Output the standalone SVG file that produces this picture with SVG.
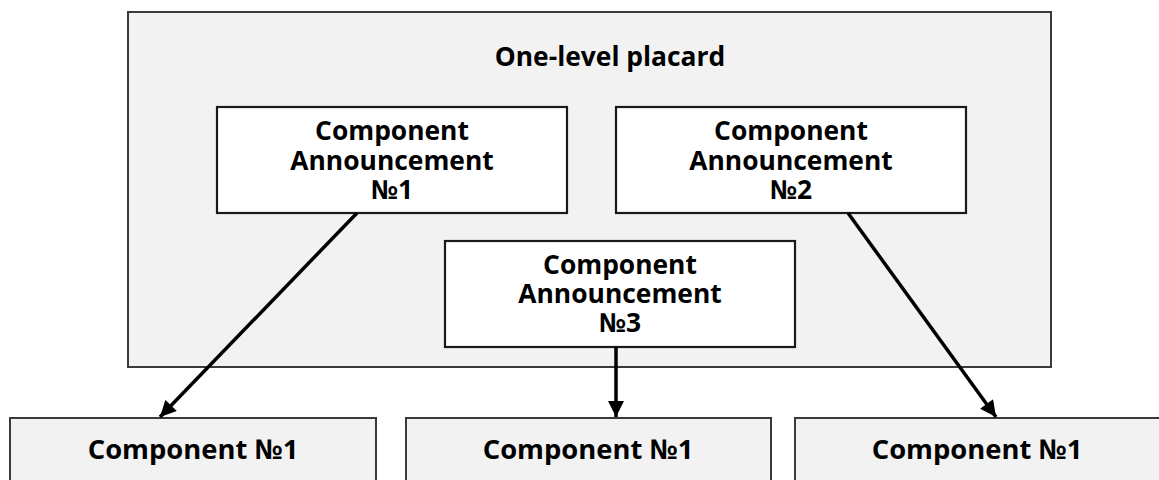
<svg xmlns="http://www.w3.org/2000/svg" width="1159" height="480" viewBox="0 0 1159 480">
<defs>
<style>
.outer{fill:#f2f2f2;stroke:#3a3a3a;stroke-width:2}
.inner{fill:#ffffff;stroke:#1a1a1a;stroke-width:2.2}
.comp{fill:#f2f2f2;stroke:#3a3a3a;stroke-width:2}
.t{font-family:"Open Sans","Noto Sans","DejaVu Sans",sans-serif;font-weight:bold;font-size:26.4px;fill:#000;text-anchor:middle}
.b{font-size:27.4px}
.conn{stroke:#000;stroke-width:3.5;fill:none}
</style>
<marker id="ah" viewBox="0 0 10 10" refX="10" refY="5" markerWidth="17" markerHeight="16" markerUnits="userSpaceOnUse" orient="auto">
<path d="M0,0 L10,5 L0,10 Z" fill="#000"/>
</marker>
</defs>
<rect width="1159" height="480" fill="#ffffff"/>
<g id="placard">
<rect class="outer" x="128" y="12" width="923" height="355"/>
<text class="t" x="610" y="66">One-level placard</text>
</g>
<g id="announcement1">
<rect class="inner" x="217" y="107" width="350" height="106"/>
<text class="t" x="392" y="140">Component<tspan x="392" y="170">Announcement</tspan><tspan x="392" y="199">№1</tspan></text>
</g>
<g id="announcement2">
<rect class="inner" x="616" y="107" width="350" height="106"/>
<text class="t" x="791" y="140">Component<tspan x="791" y="170">Announcement</tspan><tspan x="791" y="199">№2</tspan></text>
</g>
<g id="announcement3">
<rect class="inner" x="445" y="241" width="350" height="106"/>
<text class="t" x="620" y="274">Component<tspan x="620" y="303">Announcement</tspan><tspan x="620" y="332">№3</tspan></text>
</g>
<g id="component-a">
<rect class="comp" x="10" y="418" width="366" height="80"/>
<text class="t b" x="193" y="459">Component №1</text>
</g>
<g id="component-b">
<rect class="comp" x="406" y="418" width="365" height="80"/>
<text class="t b" x="588" y="459">Component №1</text>
</g>
<g id="component-c">
<rect class="comp" x="795" y="418" width="380" height="80"/>
<text class="t b" x="977" y="459">Component №1</text>
</g>
<g id="connectors">
<line class="conn" x1="357" y1="213" x2="160" y2="417" marker-end="url(#ah)"/>
<line class="conn" x1="616" y1="347" x2="616" y2="417" marker-end="url(#ah)"/>
<line class="conn" x1="848" y1="213" x2="996" y2="417" marker-end="url(#ah)"/>
</g>
</svg>
